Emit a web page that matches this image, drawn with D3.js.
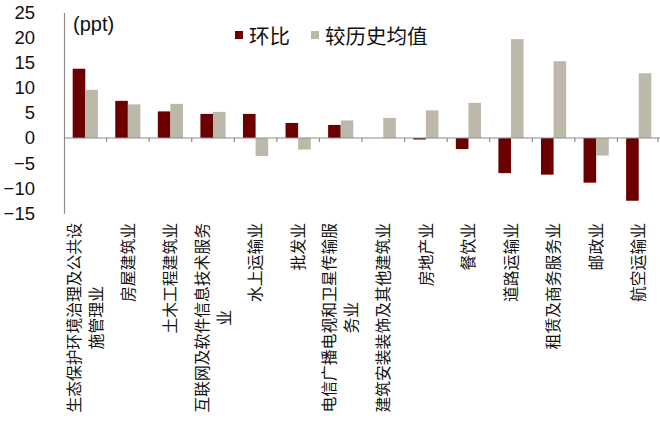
<!DOCTYPE html>
<html>
<head>
<meta charset="utf-8">
<script src="https://cdn.jsdelivr.net/npm/d3@7"></script>
<style>
  body { margin: 0; background: #fff; }
  svg { display: block; }
</style>
</head>
<body>
<svg width="660" height="423"></svg>
<script>
// industries, left to right
const categories = [
  "生态保护环境治理及公共设施管理业",
  "房屋建筑业",
  "土木工程建筑业",
  "互联网及软件信息技术服务业",
  "水上运输业",
  "批发业",
  "电信广播电视和卫星传输服务业",
  "建筑安装装饰及其他建筑业",
  "房地产业",
  "餐饮业",
  "道路运输业",
  "租赁及商务服务业",
  "邮政业",
  "航空运输业"
];
const seriesNames = ["环比", "较历史均值"];
const momValues  = [13.8, 7.4, 5.3, 4.8, 4.8, 3.0, 2.6, 0, -0.3, -2.2, -7.0, -7.3, -8.9, -12.5];
const histValues = [9.6, 6.7, 6.8, 5.2, -3.6, -2.3, 3.5, 4.0, 5.5, 7.0, 19.7, 15.3, -3.5, 12.9];
const yTicks = [25, 20, 15, 10, 5, 0, -5, -10, -15];

const colors = ["#6b0000", "#bcb9aa"];
const cjk = "'Noto Sans CJK SC', 'Noto Sans', sans-serif";
const latin = "'Liberation Sans', Arial, sans-serif";

const svg = d3.select("svg");
const axisLeft = 64, axisRight = 660, yTop = 12.5, yBottom = 213.3;

const x = d3.scaleBand()
  .domain(categories)
  .range([axisLeft, axisRight])
  .paddingInner(0)
  .paddingOuter(0);

const xs = d3.scaleBand()
  .domain(seriesNames)
  .range([0, x.bandwidth()])
  .paddingInner(0)
  .paddingOuter(0.69);

const y = d3.scaleLinear()
  .domain([-15, 25])
  .range([yBottom, yTop]);

const rows = categories.map((c, i) => ({cat: c, vals: [momValues[i], histValues[i]]}));

// bars
const groups = svg.append("g").selectAll("g").data(rows).enter().append("g")
  .attr("transform", d => `translate(${x(d.cat)},0)`);

groups.selectAll("rect")
  .data(d => d.vals.map((v, k) => ({k, v})))
  .enter().append("rect")
  .attr("x", d => xs(seriesNames[d.k]))
  .attr("width", xs.bandwidth())
  .attr("y", d => y(Math.max(0, d.v)))
  .attr("height", d => Math.abs(y(d.v) - y(0)))
  .attr("fill", d => colors[d.k]);

// y axis
const yAxis = svg.append("g")
  .attr("transform", `translate(${axisLeft},0)`)
  .call(d3.axisLeft(y).tickValues(yTicks).tickSize(0).tickPadding(29));
yAxis.select(".domain").attr("stroke", "#8c8c8c").attr("stroke-width", 1.2);
yAxis.selectAll("text")
  .attr("font-family", latin)
  .attr("font-size", 18.5)
  .attr("fill", "#111");

// x axis at zero, ticks between categories
const xAxis = svg.append("g")
  .attr("transform", `translate(0,${y(0)})`);
xAxis.append("line")
  .attr("x1", axisLeft).attr("x2", axisRight)
  .attr("stroke", "#8c8c8c").attr("stroke-width", 1.2);
xAxis.selectAll(".tk")
  .data(categories.slice(1).concat(["end"]))
  .enter().append("line")
  .attr("x1", (d, i) => i < categories.length - 1 ? x(d) : axisRight - 2)
  .attr("x2", (d, i) => i < categories.length - 1 ? x(d) : axisRight - 2)
  .attr("y1", 0).attr("y2", 4)
  .attr("stroke", "#8c8c8c").attr("stroke-width", 1.2);

// category labels: rotated, wrapped at 12 chars, block top at 223
const labelTop = 223, labelSize = 15.8, lineGap = 22;
categories.forEach(c => {
  const lines = [];
  for (let i = 0; i < c.length; i += 12) lines.push(c.slice(i, i + 12));
  const blockLen = d3.max(lines, l => l.length) * labelSize;
  const cy = labelTop + blockLen / 2;
  const cx = x(c) + x.bandwidth() / 2;
  lines.forEach((l, j) => {
    const lx = cx + (j - (lines.length - 1) / 2) * lineGap;
    svg.append("text")
      .attr("transform", `translate(${lx},${cy}) rotate(-90)`)
      .attr("text-anchor", "middle")
      .attr("dy", "0.36em")
      .attr("font-family", cjk)
      .attr("font-size", labelSize)
      .attr("fill", "#111")
      .text(l);
  });
});

// unit
svg.append("text")
  .attr("x", 73).attr("y", 31)
  .attr("font-family", latin)
  .attr("font-size", 20)
  .attr("fill", "#111")
  .text("(ppt)");

// legend
const legend = [
  {name: seriesNames[0], color: colors[0], x: 235, tx: 249},
  {name: seriesNames[1], color: colors[1], x: 311, tx: 325}
];
legend.forEach(l => {
  svg.append("rect")
    .attr("x", l.x).attr("y", 31)
    .attr("width", 8).attr("height", 8)
    .attr("fill", l.color);
  svg.append("text")
    .attr("x", l.tx).attr("y", 37)
    .attr("dy", "0.36em")
    .attr("font-family", cjk)
    .attr("font-size", 20.5)
    .attr("fill", "#111")
    .text(l.name);
});
</script>
</body>
</html>
